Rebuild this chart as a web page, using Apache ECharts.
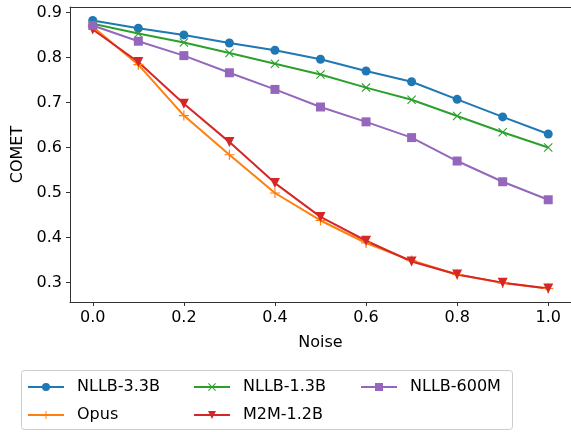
<!DOCTYPE html>
<html><head><meta charset="utf-8">
<script src="https://cdn.jsdelivr.net/npm/echarts@6/dist/echarts.min.js"></script>
<style>html,body{margin:0;padding:0;background:#fff}#c{width:571px;height:432px}</style>
</head><body><div id="c"></div>
<script>
const noise = [0.0, 0.1, 0.2, 0.3, 0.4, 0.5, 0.6, 0.7, 0.8, 0.9, 1.0];
const xTicks = [0.0, 0.2, 0.4, 0.6, 0.8, 1.0];
const yTicks = [0.3, 0.4, 0.5, 0.6, 0.7, 0.8, 0.9];
const nllb33 = [0.882, 0.865, 0.850, 0.832, 0.816, 0.796, 0.770, 0.746, 0.707, 0.668, 0.630];
const opus   = [0.868, 0.784, 0.671, 0.584, 0.499, 0.438, 0.388, 0.349, 0.318, 0.299, 0.287];
const nllb13 = [0.875, 0.853, 0.833, 0.810, 0.786, 0.762, 0.733, 0.706, 0.670, 0.634, 0.600];
const m2m    = [0.862, 0.790, 0.697, 0.612, 0.521, 0.446, 0.393, 0.347, 0.318, 0.300, 0.287];
const nllb600= [0.871, 0.836, 0.804, 0.766, 0.729, 0.690, 0.657, 0.622, 0.570, 0.524, 0.484];
const names = ['NLLB-3.3B', 'Opus', 'NLLB-1.3B', 'M2M-1.2B', 'NLLB-600M'];

const FONT = 'DejaVu Sans';
const plusPath = 'path://M4.4,0H5.6V4.4H10V5.6H5.6V10H4.4V5.6H0V4.4H4.4Z';
const xPath = 'path://M0,0.85L0.85,0L5,4.15L9.15,0L10,0.85L5.85,5L10,9.15L9.15,10L5,5.85L0.85,10L0,9.15L4.15,5Z';

const specs = [
  {name: names[0], data: nllb33, color: '#1f77b4', symbol: 'circle', size: 9, rot: 0},
  {name: names[1], data: opus, color: '#ff7f0e', symbol: plusPath, size: 10, rot: 0},
  {name: names[2], data: nllb13, color: '#2ca02c', symbol: xPath, size: 9, rot: 0},
  {name: names[3], data: m2m, color: '#d62728', symbol: 'triangle', size: 10, rot: 180},
  {name: names[4], data: nllb600, color: '#9467bd', symbol: 'rect', size: 9, rot: 0}
];

const series = specs.map(s => ({
  type: 'line', name: s.name,
  data: noise.map((x, i) => [x, s.data[i]]),
  color: s.color,
  symbol: s.symbol, symbolSize: s.size, symbolRotate: s.rot,
  showAllSymbol: true,
  lineStyle: {width: 2, color: s.color},
  itemStyle: {color: s.color},
  emphasis: {disabled: true},
  animation: false
}));

// legend positions (column-major, 3 columns)
const legPos = [
  {left: 27, top: 379}, {left: 27, top: 407},
  {left: 193, top: 379}, {left: 193, top: 407},
  {left: 360, top: 379}
];
const legends = names.map((n, i) => ({
  data: [n], left: legPos[i].left, top: legPos[i].top,
  itemWidth: 36, itemHeight: 10, itemGap: 0,
  textStyle: {fontFamily: FONT, fontSize: 16, color: '#000', padding: [0, 0, 0, 8]},
  padding: 0, selectedMode: false
}));

const chart = echarts.init(document.getElementById('c'), null, {renderer: 'canvas'});
chart.setOption({
  backgroundColor: '#fff',
  animation: false,
  grid: {left: 70, right: 0, top: 7, bottom: 130},
  legend: legends,
  graphic: [{
    type: 'rect', left: 21, top: 370,
    shape: {width: 491, height: 59, r: 3},
    style: {fill: 'rgba(255,255,255,0.8)', stroke: '#cccccc', lineWidth: 1},
    z: -1
  }],
  xAxis: [{
    type: 'value', min: -0.05, max: 1.05,
    name: 'Noise', nameLocation: 'middle', nameGap: 33,
    nameTextStyle: {fontFamily: FONT, fontSize: 16, color: '#000'},
    axisLine: {show: true, onZero: false, lineStyle: {color: '#333', width: 1}},
    axisTick: {show: true, length: 4, customValues: xTicks, lineStyle: {color: '#333'}},
    axisLabel: {customValues: xTicks, margin: 8, fontFamily: FONT, fontSize: 16, color: '#000',
      formatter: v => Number(v).toFixed(1)},
    splitLine: {show: false}
  }, {
    type: 'value', position: 'top', min: -0.05, max: 1.05,
    axisLine: {show: true, lineStyle: {color: '#333', width: 1}},
    axisTick: {show: false}, axisLabel: {show: false}, splitLine: {show: false}
  }],
  yAxis: {
    type: 'value', min: 0.257, max: 0.912,
    name: 'COMET', nameLocation: 'middle', nameGap: 43,
    nameTextStyle: {fontFamily: FONT, fontSize: 16, color: '#000'},
    axisLine: {show: true, onZero: false, lineStyle: {color: '#333', width: 1}},
    axisTick: {show: true, length: 4, customValues: yTicks, lineStyle: {color: '#333'}},
    axisLabel: {customValues: yTicks, margin: 8, fontFamily: FONT, fontSize: 16, color: '#000',
      formatter: v => Number(v).toFixed(1)},
    splitLine: {show: false}
  },
  series: series
});
</script></body></html>
